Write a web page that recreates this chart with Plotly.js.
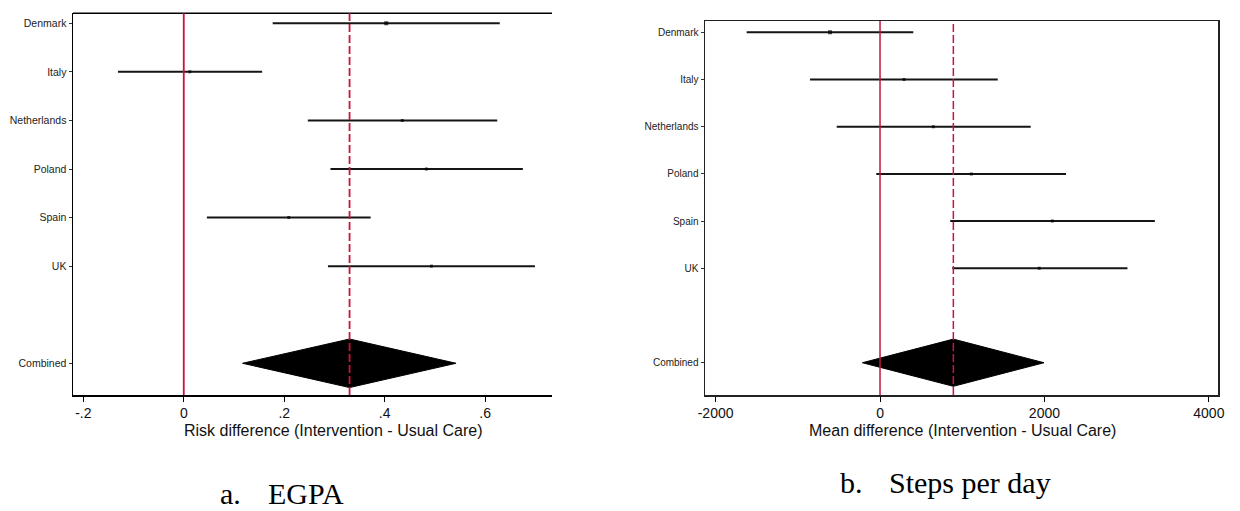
<!DOCTYPE html>
<html>
<head>
<meta charset="utf-8">
<script src="https://cdn.plot.ly/plotly-3.0.1.min.js"></script>
<style>
html,body{margin:0;padding:0;background:#fff;}
#chart{width:1240px;height:511px;}
</style>
</head>
<body>
<div id="chart"></div>
<script>
// ---- data ----
const countries = ['Denmark', 'Italy', 'Netherlands', 'Poland', 'Spain', 'UK'];
const pooledLabel = 'Combined';

// Panel a: EGPA, risk difference
const egpaEst = [0.403, 0.012, 0.435, 0.483, 0.209, 0.493];
const egpaLo  = [0.177, -0.131, 0.247, 0.292, 0.046, 0.287];
const egpaHi  = [0.629, 0.156, 0.624, 0.675, 0.372, 0.699];
const egpaPooledLo = 0.117, egpaPooledEst = 0.330, egpaPooledHi = 0.542;
const egpaTickVals = [-0.2, 0, 0.2, 0.4, 0.6];
const egpaTickText = ['-.2', '0', '.2', '.4', '.6'];
const egpaAxisTitle = 'Risk difference (Intervention - Usual Care)';
const egpaCaption = ['a.', 'EGPA'];

// Panel b: Steps per day, mean difference
const stepsEst = [-608, 292, 649, 1111, 2096, 1937];
const stepsLo  = [-1622, -852, -527, -45, 854, 879];
const stepsHi  = [405, 1432, 1833, 2263, 3343, 3010];
const stepsPooledLo = -215, stepsPooledEst = 892, stepsPooledHi = 1995;
const stepsTickVals = [-2000, 0, 2000, 4000];
const stepsTickText = ['-2000', '0', '2000', '4000'];
const stepsAxisTitle = 'Mean difference (Intervention - Usual Care)';
const stepsCaption = ['b.', 'Steps per day'];

// ---- layout helpers ----
const W = 1240, H = 511;
const px = v => v / W, py = v => 1 - v / H;
const RED = '#c8143c';
const rowY = countries.map((c, i) => countries.length + 1 - i); // 7..2
const pooledY = 0;
const allY = rowY.concat([pooledY]);
const allLabels = countries.concat([pooledLabel]);

function ciTrace(lo, hi, xa, ya) {
  const xs = [], ys = [];
  lo.forEach((l, i) => { xs.push(l, hi[i], null); ys.push(rowY[i], rowY[i], null); });
  return {x: xs, y: ys, xaxis: xa, yaxis: ya, mode: 'lines', type: 'scatter',
          line: {color: '#151515', width: 2}, hoverinfo: 'skip', showlegend: false};
}
function estTrace(est, xa, ya) {
  return {x: est, y: rowY, xaxis: xa, yaxis: ya, mode: 'markers', type: 'scatter',
          marker: {symbol: 'square', size: est.map((_, i) => i === 0 ? 4 : 3), color: '#000', line: {width: 0}},
          showlegend: false};
}
function diamondTrace(lo, est, hi, xa, ya) {
  return {x: [lo, est, hi, est, lo], y: [pooledY, pooledY + 0.5, pooledY, pooledY - 0.5, pooledY],
          xaxis: xa, yaxis: ya, mode: 'lines', type: 'scatter', fill: 'toself',
          fillcolor: '#000', line: {color: '#000', width: 1}, showlegend: false};
}

const data = [
  diamondTrace(egpaPooledLo, egpaPooledEst, egpaPooledHi, 'x', 'y'),
  ciTrace(egpaLo, egpaHi, 'x', 'y'),
  estTrace(egpaEst, 'x', 'y'),
  diamondTrace(stepsPooledLo, stepsPooledEst, stepsPooledHi, 'x2', 'y2'),
  ciTrace(stepsLo, stepsHi, 'x2', 'y2'),
  estTrace(stepsEst, 'x2', 'y2')
];

const tickFont = {family: 'Liberation Sans, Arial, sans-serif', size: 14, color: '#111'};
const yFont = {family: 'Liberation Sans, Arial, sans-serif', size: 10.5, color: '#222'};
const capFont = {family: 'Liberation Serif, Times New Roman, serif', size: 30, color: '#000'};

const layout = {
  width: W, height: H,
  margin: {l: 0, r: 0, t: 0, b: 0},
  paper_bgcolor: '#fff', plot_bgcolor: '#fff',
  showlegend: false,
  xaxis: {
    domain: [px(73), px(552)], range: [-0.2205, 0.733],
    tickvals: egpaTickVals, ticktext: egpaTickText,
    ticks: 'outside', ticklen: 5, tickwidth: 1, tickcolor: '#000',
    showline: true, linecolor: '#000', linewidth: 1.5,
    showgrid: false, zeroline: false, tickfont: tickFont, anchor: 'y'
  },
  yaxis: {
    domain: [py(395), py(13.3)], range: [-0.653, 7.206],
    tickvals: allY, ticktext: allLabels,
    ticks: 'outside', ticklen: 3, tickwidth: 1, tickcolor: '#333',
    showline: true, linecolor: '#000', linewidth: 1.5,
    showgrid: false, zeroline: false, tickfont: yFont, anchor: 'x'
  },
  xaxis2: {
    domain: [px(705), px(1218.3)], range: [-2129, 4115],
    tickvals: stepsTickVals, ticktext: stepsTickText,
    ticks: 'outside', ticklen: 5, tickwidth: 1, tickcolor: '#000',
    showline: true, mirror: true, linecolor: '#222', linewidth: 1.5,
    showgrid: false, zeroline: false, tickfont: tickFont, anchor: 'y2'
  },
  yaxis2: {
    domain: [py(395), py(21)], range: [-0.684, 7.24],
    tickvals: allY, ticktext: allLabels,
    ticks: 'outside', ticklen: 3, tickwidth: 1, tickcolor: '#333',
    showline: true, mirror: true, linecolor: '#222', linewidth: 1.5,
    showgrid: false, zeroline: false, tickfont: {family: yFont.family, size: 10, color: '#222'}, anchor: 'x2'
  },
  shapes: [
    {type: 'line', xref: 'x domain', yref: 'y domain', x0: 0, x1: 1, y0: 1, y1: 1, line: {color: '#000', width: 1.5}},
    {type: 'line', xref: 'x', yref: 'y domain', x0: 0, x1: 0, y0: 0, y1: 1, line: {color: RED, width: 1.8}},
    {type: 'line', xref: 'x', yref: 'y domain', x0: egpaPooledEst, x1: egpaPooledEst, y0: 0, y1: 1, line: {color: RED, width: 1.8, dash: '8px,3px'}},
    {type: 'line', xref: 'x2', yref: 'y2 domain', x0: 0, x1: 0, y0: 0, y1: 1, line: {color: RED, width: 1.5}},
    {type: 'line', xref: 'x2', yref: 'y2 domain', x0: stepsPooledEst, x1: stepsPooledEst, y0: 0, y1: 1, line: {color: RED, width: 1.5, dash: '8px,3px'}}
  ],
  annotations: [
    {text: egpaAxisTitle, xref: 'paper', yref: 'paper', x: px(333.3), y: py(430), xanchor: 'center', yanchor: 'middle',
     showarrow: false, font: {family: 'Liberation Sans, Arial, sans-serif', size: 16, color: '#111'}},
    {text: stepsAxisTitle, xref: 'paper', yref: 'paper', x: px(962), y: py(430), xanchor: 'center', yanchor: 'middle',
     showarrow: false, font: {family: 'Liberation Sans, Arial, sans-serif', size: 16, color: '#111'}},
    {text: egpaCaption[0], xref: 'paper', yref: 'paper', x: px(219), y: 0, xanchor: 'left', yanchor: 'bottom',
     showarrow: false, font: capFont, borderpad: 0},
    {text: egpaCaption[1], xref: 'paper', yref: 'paper', x: px(267), y: 0, xanchor: 'left', yanchor: 'bottom',
     showarrow: false, font: capFont, borderpad: 0},
    {text: stepsCaption[0], xref: 'paper', yref: 'paper', x: px(838), y: py(482), xanchor: 'left', yanchor: 'middle',
     showarrow: false, font: capFont},
    {text: stepsCaption[1], xref: 'paper', yref: 'paper', x: px(887), y: py(482), xanchor: 'left', yanchor: 'middle',
     showarrow: false, font: capFont}
  ]
};

Plotly.newPlot('chart', data, layout, {staticPlot: true, displayModeBar: false});
</script>
</body>
</html>
